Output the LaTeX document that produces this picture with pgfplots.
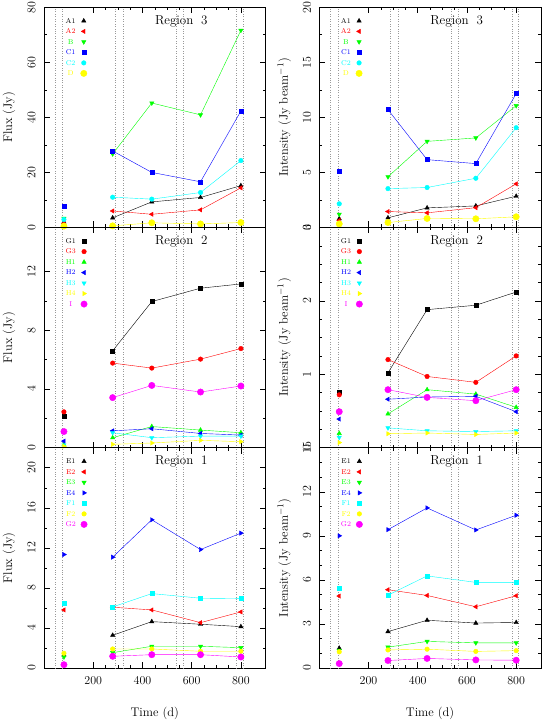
\documentclass[border=0pt]{standalone}
\usepackage{pgfplots}
\pgfplotsset{compat=1.18}
\definecolor{pk}{rgb}{0,0,0}
\definecolor{pr}{rgb}{1,0,0}
\definecolor{pg}{rgb}{0,1,0}
\definecolor{pb}{rgb}{0,0,1}
\definecolor{pc}{rgb}{0,1,1}
\definecolor{py}{rgb}{1,1,0}
\definecolor{pm}{rgb}{1,0,1}
\tikzset{rt/.style={font=\fontsize{13}{15}\selectfont}}
\pgfplotsset{
 panel/.style={
   scale only axis, width=221.5pt, height=220.3pt,
   xmin=0, xmax=900, xtick={200,400,600,800}, minor x tick num=3,
   tick align=inside, major tick length=6pt, minor tick length=3pt,
   every tick/.style={black, line width=0.5pt},
   axis line style={black, line width=0.6pt},
   yticklabel style={rotate=90, anchor=south, font=\fontsize{12.5}{14}\selectfont},
   xticklabel style={font=\fontsize{12.5}{14}\selectfont},
   yticklabel shift=5pt, xticklabel shift=5pt,
   every axis y label/.style={at={(axis description cs:0,0.5)}, xshift=-35pt, rotate=90, anchor=center, font=\fontsize{12.5}{14}\selectfont},
   every axis x label/.style={at={(axis description cs:0.5,0)}, yshift=-45pt, anchor=center, font=\fontsize{12.5}{14}\selectfont},
   legend style={draw=none, fill=none, at={(0.0925,0.9626)}, anchor=north west, inner sep=0pt,
     font=\fontsize{7}{8}\selectfont, row sep=0pt, column sep=4pt,
     nodes={inner sep=1pt, text height=6.5pt, text depth=2pt}},
   legend plot pos=right, legend cell align=center,
 },
 vl/.style={ycomb, mark=none, dotted, black!40, line width=0.45pt, forget plot},
 ln/.style={line width=0.4pt, mark=none, forget plot},
 tu/.style={only marks, mark=triangle*, mark size=2.5pt},
 tl/.style={only marks, mark=triangle*, mark size=2.5pt, mark options={rotate=90}},
 td/.style={only marks, mark=triangle*, mark size=2.5pt, mark options={rotate=180}},
 tr/.style={only marks, mark=triangle*, mark size=2.5pt, mark options={rotate=-90}},
 sq/.style={only marks, mark=square*, mark size=2pt},
 bl/.style={only marks, mark=*, mark size=2.3pt},
 bg/.style={only marks, mark=*, mark size=3.2pt},
}
\begin{document}
\begin{tikzpicture}
\useasboundingbox (0pt,0pt) rectangle (541pt,720pt);

%================ Region 3 flux
\begin{axis}[panel, at={(44pt,492.5pt)}, anchor=south west,
  ymin=0, ymax=80, ytick={0,20,40,60,80}, minor y tick num=1,
  xticklabels={}, ylabel={Flux (Jy)}]
\addplot[vl] coordinates {(45,80)(75,80)(290,80)(320,80)(537,80)(565,80)(782,80)(810,80)};
\addplot[ln,pk] coordinates {(279,3.5)(438,9.3)(636,10.9)(800,15.2)};
\addplot[ln,pr] coordinates {(279,6.0)(438,4.8)(636,6.4)(800,14.4)};
\addplot[ln,pg] coordinates {(279,26.7)(438,45.2)(636,40.9)(800,71.6)};
\addplot[ln,pb] coordinates {(279,27.8)(438,20.0)(636,16.6)(800,42.3)};
\addplot[ln,pc] coordinates {(279,11.0)(438,10.3)(636,12.7)(800,24.3)};
\addplot[ln,py] coordinates {(279,0.6)(438,1.7)(636,1.3)(800,1.8)};
\addplot[tu,pk] coordinates {(81,2.0)(279,3.5)(438,9.3)(636,10.9)(800,15.2)};
\addlegendentry{\textcolor{pk}{A1}}
\addplot[tl,pr] coordinates {(81,1.5)(279,6.0)(438,4.8)(636,6.4)(800,14.4)};
\addlegendentry{\textcolor{pr}{A2}}
\addplot[td,pg] coordinates {(81,3.3)(279,26.7)(438,45.2)(636,40.9)(800,71.6)};
\addlegendentry{\textcolor{pg}{B}}
\addplot[sq,pb] coordinates {(81,7.9)(279,27.8)(438,20.0)(636,16.6)(800,42.3)};
\addlegendentry{\textcolor{pb}{C1}}
\addplot[bl,pc] coordinates {(81,2.9)(279,11.0)(438,10.3)(636,12.7)(800,24.3)};
\addlegendentry{\textcolor{pc}{C2}}
\addplot[bg,py] coordinates {(81,0.5)(279,0.6)(438,1.7)(636,1.3)(800,1.8)};
\addlegendentry{\textcolor{py}{D}}
\node[rt] at (rel axis cs:0.62,0.937) {Region\hspace{0.6em}3};
\end{axis}

%================ Region 3 intensity
\begin{axis}[panel, at={(319.3pt,492.5pt)}, anchor=south west,
  ymin=0, ymax=20, ytick={0,5,10,15,20}, minor y tick num=1,
  xticklabels={}, ylabel={Intensity (Jy beam$^{-1}$)}]
\addplot[vl] coordinates {(45,20)(75,20)(290,20)(320,20)(537,20)(565,20)(782,20)(810,20)};
\addplot[ln,pk] coordinates {(279,0.88)(438,1.78)(636,1.96)(800,2.84)};
\addplot[ln,pr] coordinates {(279,1.45)(438,1.33)(636,1.8)(800,3.96)};
\addplot[ln,pg] coordinates {(279,4.6)(438,7.82)(636,8.13)(800,11.06)};
\addplot[ln,pb] coordinates {(279,10.7)(438,6.16)(636,5.8)(800,12.15)};
\addplot[ln,pc] coordinates {(279,3.53)(438,3.63)(636,4.47)(800,9.06)};
\addplot[ln,py] coordinates {(279,0.45)(438,0.82)(636,0.79)(800,0.97)};
\addplot[tu,pk] coordinates {(81,0.8)(279,0.88)(438,1.78)(636,1.96)(800,2.84)};
\addlegendentry{\textcolor{pk}{A1}}
\addplot[tl,pr] coordinates {(81,0.65)(279,1.45)(438,1.33)(636,1.8)(800,3.96)};
\addlegendentry{\textcolor{pr}{A2}}
\addplot[td,pg] coordinates {(81,1.2)(279,4.6)(438,7.82)(636,8.13)(800,11.06)};
\addlegendentry{\textcolor{pg}{B}}
\addplot[sq,pb] coordinates {(81,5.14)(279,10.7)(438,6.16)(636,5.8)(800,12.15)};
\addlegendentry{\textcolor{pb}{C1}}
\addplot[bl,pc] coordinates {(81,2.15)(279,3.53)(438,3.63)(636,4.47)(800,9.06)};
\addlegendentry{\textcolor{pc}{C2}}
\addplot[bg,py] coordinates {(81,0.33)(279,0.45)(438,0.82)(636,0.79)(800,0.97)};
\addlegendentry{\textcolor{py}{D}}
\node[rt] at (rel axis cs:0.62,0.937) {Region\hspace{0.6em}3};
\end{axis}

%================ Region 2 flux
\begin{axis}[panel, at={(44pt,272.3pt)}, anchor=south west,
  ymin=0, ymax=15, ytick={0,4,8,12}, minor y tick num=1,
  xticklabels={}, ylabel={Flux (Jy)}]
\addplot[vl] coordinates {(45,15)(75,15)(290,15)(320,15)(537,15)(565,15)(782,15)(810,15)};
\addplot[ln,pk] coordinates {(279,6.6)(438,9.95)(636,10.86)(800,11.15)};
\addplot[ln,pr] coordinates {(279,5.76)(438,5.42)(636,6.03)(800,6.75)};
\addplot[ln,pg] coordinates {(279,0.68)(438,1.44)(636,1.2)(800,1.02)};
\addplot[ln,pb] coordinates {(279,1.15)(438,1.29)(636,0.97)(800,0.86)};
\addplot[ln,pc] coordinates {(279,1.02)(438,0.68)(636,0.79)(800,0.79)};
\addplot[ln,py] coordinates {(279,0.23)(438,0.32)(636,0.5)(800,0.41)};
\addplot[ln,pm] coordinates {(279,3.41)(438,4.24)(636,3.79)(800,4.2)};
\addplot[sq,pk] coordinates {(81,2.17)(279,6.6)(438,9.95)(636,10.86)(800,11.15)};
\addlegendentry{\textcolor{pk}{G1}}
\addplot[bl,pr] coordinates {(81,2.44)(279,5.76)(438,5.42)(636,6.03)(800,6.75)};
\addlegendentry{\textcolor{pr}{G3}}
\addplot[tu,pg] coordinates {(81,0.2)(279,0.68)(438,1.44)(636,1.2)(800,1.02)};
\addlegendentry{\textcolor{pg}{H1}}
\addplot[tl,pb] coordinates {(81,0.45)(279,1.15)(438,1.29)(636,0.97)(800,0.86)};
\addlegendentry{\textcolor{pb}{H2}}
\addplot[td,pc] coordinates {(81,0.18)(279,1.02)(438,0.68)(636,0.79)(800,0.79)};
\addlegendentry{\textcolor{pc}{H3}}
\addplot[tr,py] coordinates {(81,0.1)(279,0.23)(438,0.32)(636,0.5)(800,0.41)};
\addlegendentry{\textcolor{py}{H4}}
\addplot[bg,pm] coordinates {(81,1.1)(279,3.41)(438,4.24)(636,3.79)(800,4.2)};
\addlegendentry{\textcolor{pm}{I}}
\node[rt] at (rel axis cs:0.62,0.937) {Region\hspace{0.6em}2};
\end{axis}

%================ Region 2 intensity
\begin{axis}[panel, at={(319.3pt,272.3pt)}, anchor=south west,
  ymin=0, ymax=3, ytick={0,1,2,3}, minor y tick num=3,
  xticklabels={}, ylabel={Intensity (Jy beam$^{-1}$)}]
\addplot[vl] coordinates {(45,3)(75,3)(290,3)(320,3)(537,3)(565,3)(782,3)(810,3)};
\addplot[ln,pk] coordinates {(279,1.02)(438,1.88)(636,1.94)(800,2.12)};
\addplot[ln,pr] coordinates {(279,1.2)(438,0.97)(636,0.89)(800,1.25)};
\addplot[ln,pg] coordinates {(279,0.46)(438,0.79)(636,0.73)(800,0.55)};
\addplot[ln,pb] coordinates {(279,0.66)(438,0.69)(636,0.70)(800,0.49)};
\addplot[ln,pc] coordinates {(279,0.27)(438,0.23)(636,0.22)(800,0.23)};
\addplot[ln,py] coordinates {(279,0.19)(438,0.2)(636,0.18)(800,0.2)};
\addplot[ln,pm] coordinates {(279,0.79)(438,0.685)(636,0.64)(800,0.79)};
\addplot[sq,pk] coordinates {(81,0.76)(279,1.02)(438,1.88)(636,1.94)(800,2.12)};
\addlegendentry{\textcolor{pk}{G1}}
\addplot[bl,pr] coordinates {(81,0.72)(279,1.2)(438,0.97)(636,0.89)(800,1.25)};
\addlegendentry{\textcolor{pr}{G3}}
\addplot[tu,pg] coordinates {(81,0.195)(279,0.46)(438,0.79)(636,0.73)(800,0.55)};
\addlegendentry{\textcolor{pg}{H1}}
\addplot[tl,pb] coordinates {(81,0.39)(279,0.66)(438,0.69)(636,0.70)(800,0.49)};
\addlegendentry{\textcolor{pb}{H2}}
\addplot[td,pc] coordinates {(81,0.14)(279,0.27)(438,0.23)(636,0.22)(800,0.23)};
\addlegendentry{\textcolor{pc}{H3}}
\addplot[tr,py] coordinates {(81,0.07)(279,0.19)(438,0.2)(636,0.18)(800,0.2)};
\addlegendentry{\textcolor{py}{H4}}
\addplot[bg,pm] coordinates {(81,0.49)(279,0.79)(438,0.685)(636,0.64)(800,0.79)};
\addlegendentry{\textcolor{pm}{I}}
\node[rt] at (rel axis cs:0.62,0.937) {Region\hspace{0.6em}2};
\end{axis}

%================ Region 1 flux
\begin{axis}[panel, at={(44pt,52pt)}, anchor=south west,
  ymin=0, ymax=22, ytick={0,4,8,12,16,20}, minor y tick num=1,
  xlabel={Time (d)}, ylabel={Flux (Jy)}]
\addplot[vl] coordinates {(45,22)(75,22)(290,22)(320,22)(537,22)(565,22)(782,22)(810,22)};
\addplot[ln,pk] coordinates {(279,3.27)(438,4.63)(636,4.37)(800,4.13)};
\addplot[ln,pr] coordinates {(279,6.07)(438,5.8)(636,4.53)(800,5.6)};
\addplot[ln,pg] coordinates {(279,1.53)(438,2.17)(636,2.17)(800,2.03)};
\addplot[ln,pb] coordinates {(279,11.07)(438,14.8)(636,11.83)(800,13.47)};
\addplot[ln,pc] coordinates {(279,6.1)(438,7.43)(636,6.97)(800,6.93)};
\addplot[ln,py] coordinates {(279,1.9)(438,1.9)(636,1.67)(800,1.67)};
\addplot[ln,pm] coordinates {(279,1.17)(438,1.33)(636,1.33)(800,1.1)};
\addplot[tu,pk] coordinates {(81,1.3)(279,3.27)(438,4.63)(636,4.37)(800,4.13)};
\addlegendentry{\textcolor{pk}{E1}}
\addplot[tl,pr] coordinates {(81,5.8)(279,6.07)(438,5.8)(636,4.53)(800,5.6)};
\addlegendentry{\textcolor{pr}{E2}}
\addplot[td,pg] coordinates {(81,1.1)(279,1.53)(438,2.17)(636,2.17)(800,2.03)};
\addlegendentry{\textcolor{pg}{E3}}
\addplot[tr,pb] coordinates {(81,11.33)(279,11.07)(438,14.8)(636,11.83)(800,13.47)};
\addlegendentry{\textcolor{pb}{E4}}
\addplot[sq,pc] coordinates {(81,6.47)(279,6.1)(438,7.43)(636,6.97)(800,6.93)};
\addlegendentry{\textcolor{pc}{F1}}
\addplot[bl,py] coordinates {(81,1.47)(279,1.9)(438,1.9)(636,1.67)(800,1.67)};
\addlegendentry{\textcolor{py}{F2}}
\addplot[bg,pm] coordinates {(81,0.33)(279,1.17)(438,1.33)(636,1.33)(800,1.1)};
\addlegendentry{\textcolor{pm}{G2}}
\node[rt] at (rel axis cs:0.62,0.937) {Region\hspace{0.6em}1};
\end{axis}

%================ Region 1 intensity
\begin{axis}[panel, at={(319.3pt,52pt)}, anchor=south west,
  ymin=0, ymax=15, ytick={0,3,6,9,12,15}, minor y tick num=2,
  xlabel={Time (d)}, ylabel={Intensity (Jy beam$^{-1}$)}]
\addplot[vl] coordinates {(45,15)(75,15)(290,15)(320,15)(537,15)(565,15)(782,15)(810,15)};
\addplot[ln,pk] coordinates {(279,2.48)(438,3.25)(636,3.06)(800,3.1)};
\addplot[ln,pr] coordinates {(279,5.33)(438,4.94)(636,4.17)(800,4.92)};
\addplot[ln,pg] coordinates {(279,1.42)(438,1.81)(636,1.71)(800,1.71)};
\addplot[ln,pb] coordinates {(279,9.42)(438,10.9)(636,9.4)(800,10.4)};
\addplot[ln,pc] coordinates {(279,4.96)(438,6.27)(636,5.83)(800,5.83)};
\addplot[ln,py] coordinates {(279,1.23)(438,1.28)(636,1.13)(800,1.18)};
\addplot[ln,pm] coordinates {(279,0.51)(438,0.65)(636,0.55)(800,0.53)};
\addplot[tu,pk] coordinates {(81,1.35)(279,2.48)(438,3.25)(636,3.06)(800,3.1)};
\addlegendentry{\textcolor{pk}{E1}}
\addplot[tl,pr] coordinates {(81,4.9)(279,5.33)(438,4.94)(636,4.17)(800,4.92)};
\addlegendentry{\textcolor{pr}{E2}}
\addplot[td,pg] coordinates {(81,1.2)(279,1.42)(438,1.81)(636,1.71)(800,1.71)};
\addlegendentry{\textcolor{pg}{E3}}
\addplot[tr,pb] coordinates {(81,9.0)(279,9.42)(438,10.9)(636,9.4)(800,10.4)};
\addlegendentry{\textcolor{pb}{E4}}
\addplot[sq,pc] coordinates {(81,5.4)(279,4.96)(438,6.27)(636,5.83)(800,5.83)};
\addlegendentry{\textcolor{pc}{F1}}
\addplot[bl,py] coordinates {(81,1.1)(279,1.23)(438,1.28)(636,1.13)(800,1.18)};
\addlegendentry{\textcolor{py}{F2}}
\addplot[bg,pm] coordinates {(81,0.3)(279,0.51)(438,0.65)(636,0.55)(800,0.53)};
\addlegendentry{\textcolor{pm}{G2}}
\node[rt] at (rel axis cs:0.62,0.937) {Region\hspace{0.6em}1};
\end{axis}
\end{tikzpicture}
\end{document}
